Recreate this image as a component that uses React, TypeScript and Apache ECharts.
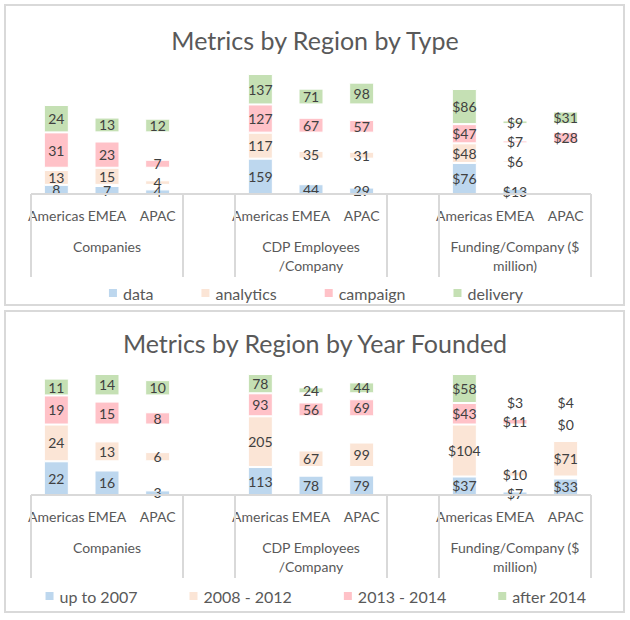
import React, { useEffect, useRef } from "react";
import * as echarts from "echarts";

const regions = ["Americas", "EMEA", "APAC"];
const groupLabels = ["Companies", "CDP Employees\n/Company", "Funding/Company ($\nmillion)"];
const moneyGroup = [false, false, true];

const panelTitles = ["Metrics by Region by Type", "Metrics by Region by Year Founded"];

const typeNames = ["data", "analytics", "campaign", "delivery"];
// values: [Companies x3 regions, CDP Employees x3, Funding x3]
const typeData = [8, 7, 4, 159, 44, 29, 76, 13, null];
const typeAnalytics = [13, 15, 4, 117, 35, 31, 48, 6, null];
const typeCampaign = [31, 23, 7, 127, 67, 57, 47, 7, 28];
const typeDelivery = [24, 13, 12, 137, 71, 98, 86, 9, 31];

const yearNames = ["up to 2007", "2008 - 2012", "2013 - 2014", "after 2014"];
const yearUpTo2007 = [22, 16, 3, 113, 78, 79, 37, 7, 33];
const year2008to2012 = [24, 13, 6, 205, 67, 99, 104, 10, 71];
const year2013to2014 = [19, 15, 8, 93, 56, 69, 43, 11, 0];
const yearAfter2014 = [11, 14, 10, 78, 24, 44, 58, 3, 4];

const colors = ["#BDD7EE", "#FBE5D6", "#FFC2C8", "#C5E0B4"];
const FONT = "Lato, 'Open Sans', sans-serif";
const TEXT = "#595959";
const LINE = "#D9D9D9";

// layout
const gridLefts = [31, 235, 439];
const gridWidth = 152;
const baselines = [194, 495];
const plotHeights = [
  [89, 120, 105],
  [121, 121, 121],
];

export default function App() {
  const ref = useRef<HTMLDivElement>(null);

  useEffect(() => {
    if (!ref.current) return;
    const chart = echarts.init(ref.current, null, { renderer: "svg" });

    const panels = [
      { names: typeNames, arrays: [typeData, typeAnalytics, typeCampaign, typeDelivery] },
      { names: yearNames, arrays: [yearUpTo2007, year2008to2012, year2013to2014, yearAfter2014] },
    ];

    const grids: any[] = [];
    const xAxes: any[] = [];
    const yAxes: any[] = [];
    const series: any[] = [];
    const graphics: any[] = [];

    panels.forEach((panel, p) => {
      const base = baselines[p];
      for (let g = 0; g < 3; g++) {
        const gi = p * 3 + g;
        const slices = panel.arrays.map((a) => a.slice(g * 3, g * 3 + 3));
        const laneMax = slices.map((s) => Math.max(...s.map((v) => (v == null ? 0 : v))));
        const total = laneMax.reduce((a, b) => a + b, 0);
        const h = plotHeights[p][g];
        grids.push({ left: gridLefts[g], width: gridWidth, top: base - h, height: h });
        xAxes.push({
          gridIndex: gi,
          type: "category",
          data: regions,
          axisLine: { show: false },
          axisTick: { show: false },
          axisLabel: { color: TEXT, fontSize: 14, margin: 14, interval: 0, fontFamily: FONT },
          name: groupLabels[g],
          nameLocation: "middle",
          nameGap: 43,
          nameTextStyle: { color: TEXT, fontSize: 14, lineHeight: 19, fontFamily: FONT },
        });
        yAxes.push({ gridIndex: gi, type: "value", min: 0, max: total, show: false });
        const money = moneyGroup[g];
        for (let k = 0; k < 4; k++) {
          series.push({
            type: "bar",
            name: panel.names[k],
            stack: "s" + gi,
            xAxisIndex: gi,
            yAxisIndex: gi,
            barWidth: 25,
            itemStyle: { color: colors[k], borderColor: "#ffffff", borderWidth: 1 },
            label: {
              show: true,
              position: "inside",
              color: "#404040",
              fontSize: 14,
              lineHeight: 11,
              fontFamily: FONT,
              formatter: (pr: any) => (money ? "$" + pr.value : String(pr.value)),
            },
            data: slices[k].map((v) => (v == null ? { value: 0, label: { show: false } } : v)),
          });
          if (k < 3) {
            series.push({
              type: "bar",
              name: "pad",
              stack: "s" + gi,
              xAxisIndex: gi,
              yAxisIndex: gi,
              barWidth: 25,
              silent: true,
              itemStyle: { color: "rgba(0,0,0,0)" },
              label: { show: false },
              data: slices[k].map((v) => laneMax[k] - (v == null ? 0 : v)),
            });
          }
        }
      }
      // axis base line
      graphics.push({
        type: "line",
        shape: { x1: gridLefts[0], y1: base, x2: gridLefts[2] + gridWidth, y2: base },
        style: { stroke: LINE, lineWidth: 2 },
        z: 5,
      });
      gridLefts.forEach((l) => {
        [l, l + gridWidth].forEach((x) => {
          graphics.push({
            type: "line",
            shape: { x1: x, y1: base, x2: x, y2: base + 83 },
            style: { stroke: LINE, lineWidth: 2 },
            z: 5,
          });
        });
      });
    });

    graphics.push({
      type: "rect",
      shape: { x: 5, y: 5, width: 619, height: 300 },
      style: { fill: "none", stroke: LINE, lineWidth: 2 },
      z: 0,
    });
    graphics.push({
      type: "rect",
      shape: { x: 5, y: 311, width: 619, height: 301 },
      style: { fill: "none", stroke: LINE, lineWidth: 2 },
      z: 0,
    });

    const legendBase = {
      left: "center",
      itemWidth: 10,
      itemHeight: 10,
      icon: "rect",
      textStyle: { color: TEXT, fontSize: 16, fontFamily: FONT },
      selectedMode: true,
    };

    chart.setOption({
      animation: false,
      backgroundColor: "#ffffff",
      title: [
        {
          text: panelTitles[0],
          left: "center",
          top: 22,
          textStyle: { color: TEXT, fontSize: 25, fontWeight: "normal", fontFamily: FONT },
        },
        {
          text: panelTitles[1],
          left: "center",
          top: 325,
          textStyle: { color: TEXT, fontSize: 25, fontWeight: "normal", fontFamily: FONT },
        },
      ],
      legend: [
        { ...legendBase, top: 280, itemGap: 46, data: typeNames },
        { ...legendBase, top: 583, itemGap: 50, data: yearNames },
      ],
      grid: grids,
      xAxis: xAxes,
      yAxis: yAxes,
      series,
      graphic: graphics,
    });

    return () => chart.dispose();
  }, []);

  return (
    <div
      ref={ref}
      style={{ position: "fixed", left: 0, top: 0, width: 630, height: 620, background: "#fff" }}
    />
  );
}
